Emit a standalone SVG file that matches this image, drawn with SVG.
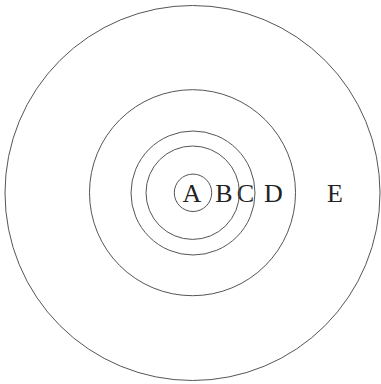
<svg xmlns="http://www.w3.org/2000/svg" width="381" height="384" viewBox="0 0 381 384">
<style>
.ring{fill:none;stroke:#555;stroke-width:1}
.lbl{font-family:"Liberation Serif","Times New Roman",serif;font-size:26px;fill:#222;text-anchor:middle}
</style>
<rect width="381" height="384" fill="#fff"/>
<g id="E"><circle class="ring" cx="192.5" cy="193" r="187.5"/><text class="lbl" x="335" y="202">E</text></g>
<g id="D"><circle class="ring" cx="192.5" cy="192.7" r="103"/><text class="lbl" x="273.5" y="202">D</text></g>
<g id="C"><circle class="ring" cx="193" cy="193" r="62"/><text class="lbl" x="245.5" y="202">C</text></g>
<g id="B"><circle class="ring" cx="192.7" cy="192.7" r="46.7"/><text class="lbl" x="224" y="202">B</text></g>
<g id="A"><circle class="ring" cx="193" cy="192.8" r="18.7"/><text class="lbl" x="192" y="202">A</text></g>
<g id="connectors"/>
</svg>
